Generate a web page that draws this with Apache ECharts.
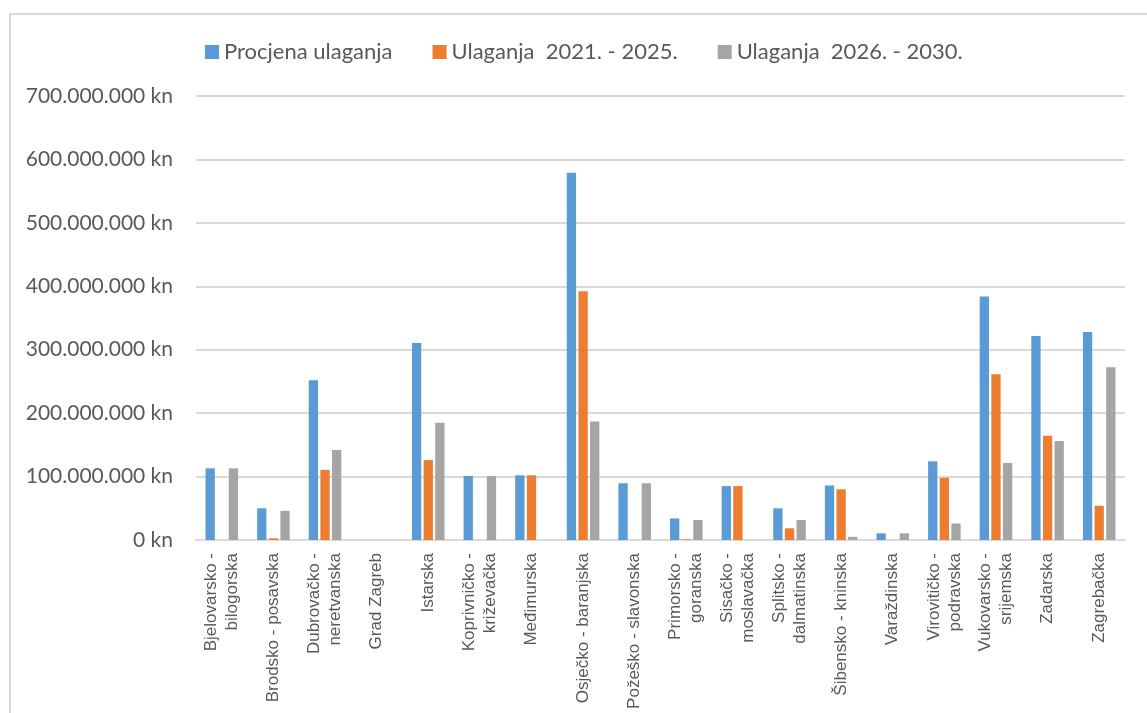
<!DOCTYPE html>
<html>
<head>
<meta charset="utf-8">
<script src="https://cdn.jsdelivr.net/npm/echarts@6/dist/echarts.min.js"></script>
<style>
  html, body { margin: 0; padding: 0; background: #fff; }
  #frame {
    position: absolute; left: 9px; top: 13px; width: 1160px; height: 720px;
    border: 2px solid #d9d9d9; box-sizing: border-box;
  }
  #main { position: absolute; left: 0; top: 0; width: 1147px; height: 713px; }
</style>
</head>
<body>
<div id="frame"></div>
<div id="main"></div>
<script>
// zupanije (line breaks as drawn in the original)
const categories = [
  'Bjelovarsko -\nbilogorska', 'Brodsko - posavska', 'Dubrovačko -\nneretvanska', 'Grad Zagreb',
  'Istarska', 'Koprivničko -\nkriževačka', 'Međimurska', 'Osječko - baranjska',
  'Požeško - slavonska', 'Primorsko -\ngoranska', 'Sisačko -\nmoslavačka', 'Splitsko -\ndalmatinska',
  'Šibensko - kninska', 'Varaždinska', 'Virovitičko -\npodravska', 'Vukovarsko -\nsrijemska',
  'Zadarska', 'Zagrebačka'
];

// vrijednosti u kn
const procjena = [
  113000000, 50000000, 252000000, 0, 310500000, 101000000, 102000000, 579000000,
  89500000, 34000000, 85000000, 50000000, 86000000, 10500000, 124000000, 384000000,
  321500000, 328000000
];
const ulaganja2125 = [
  0, 2700000, 110500000, 0, 126000000, 0, 102000000, 392000000,
  0, 1000000, 85000000, 18500000, 80000000, 0, 98000000, 261500000,
  164500000, 54000000
];
const ulaganja2630 = [
  113000000, 46000000, 142000000, 0, 185000000, 101000000, 0, 187000000,
  89500000, 31500000, 0, 31500000, 5000000, 10500000, 26000000, 121500000,
  156000000, 272500000
];

const seriesNames = ['Procjena ulaganja', 'Ulaganja  2021. - 2025.', 'Ulaganja  2026. - 2030.'];
const colors = ['#5B9BD5', '#ED7D31', '#A5A5A5'];

const myChart = echarts.init(document.getElementById('main'));

const fmtKn = v => {
  const s = String(Math.round(v)).replace(/\B(?=(\d{3})+(?!\d))/g, '.');
  return s + ' kn';
};

const seriesData = [procjena, ulaganja2125, ulaganja2630].map((values, i) => ({
  name: seriesNames[i],
  type: 'bar',
  data: values,
  barWidth: 9.3,
  barGap: '25%',
  itemStyle: { color: colors[i] }
}));

const option = {
  animation: false,
  color: colors,
  legend: {
    data: seriesNames,
    left: 200,
    top: 36,
    itemWidth: 14,
    itemHeight: 14,
    itemGap: 40,
    icon: 'rect',
    textStyle: {
      color: '#595959',
      fontFamily: 'Lato',
      fontSize: 22
    }
  },
  grid: {
    left: 196,
    right: 22,
    top: 96,
    bottom: 173,
    containLabel: false,
    outerBoundsMode: 'none'
  },
  xAxis: {
    type: 'category',
    data: categories,
    axisLine: { show: true, lineStyle: { color: '#d9d9d9', width: 2 } },
    axisTick: { show: false },
    axisLabel: {
      rotate: 90,
      interval: 0,
      margin: 13,
      color: '#595959',
      fontFamily: 'Liberation Sans',
      fontSize: 17,
      lineHeight: 21
    }
  },
  yAxis: {
    type: 'value',
    min: 0,
    max: 700000000,
    interval: 100000000,
    axisLine: { show: false },
    axisTick: { show: false },
    axisLabel: {
      color: '#595959',
      fontFamily: 'Lato',
      fontSize: 21,
      margin: 23,
      formatter: fmtKn
    },
    splitLine: {
      lineStyle: { color: '#d9d9d9', width: 2 }
    }
  },
  series: seriesData
};

myChart.setOption(option);
</script>
</body>
</html>
